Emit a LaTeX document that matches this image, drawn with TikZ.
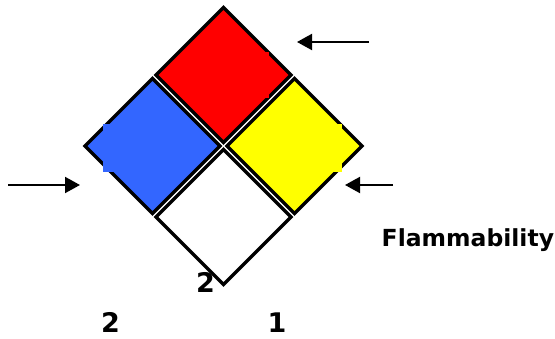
\documentclass[tikz,border=0pt]{standalone}
\usepackage{fontspec}
\setmainfont{DejaVu Sans}
\usetikzlibrary{shapes.geometric,arrows.meta}
\definecolor{nfpared}{RGB}{255,0,0}
\definecolor{nfpablue}{RGB}{51,102,255}
\definecolor{nfpayellow}{RGB}{255,255,0}
\begin{document}
\begin{tikzpicture}[x=1pt,y=-1pt,
  cell/.style={diamond, aspect=1, draw=black, line width=3.5pt, minimum width=135pt, minimum height=135pt, inner sep=0pt, outer sep=0pt},
  pointer/.style={line width=2pt, -{Triangle[length=15pt,width=16pt]}},
  lbl/.style={font=\bfseries\fontsize{23.5}{28}\selectfont, inner sep=0pt, anchor=base west},
  digit/.style={font=\bfseries\fontsize{27}{30}\selectfont, inner sep=0pt, anchor=base west}]
\useasboundingbox (0,0) rectangle (555,339);
\clip (0,0) rectangle (555,339);
% the four cells of the diamond
\node[cell, fill=nfpared]    (health)  at (223.5,75)  {};
\node[cell, fill=nfpablue]   (blue)    at (152.5,146) {};
\node[cell, fill=nfpayellow] (yellow)  at (294.5,146) {};
\node[cell, fill=white]      (special) at (223.5,217) {};
% small colour patches over the borders
\fill[nfpared]    (200,52)  rectangle (268.5,98);
\fill[nfpablue]   (103,124) rectangle (151,172);
\fill[nfpayellow] (297,124) rectangle (342,172);
% digits
\node[digit] (d0) at (196,293) {2};
\node[digit] (d1) at (101,333) {2};
\node[digit] (d2) at (267.5,333) {1};
% arrows
\coordinate (a1s) at (369,42);  \coordinate (a1e) at (297,42);
\coordinate (a2s) at (8,185);   \coordinate (a2e) at (80,185);
\coordinate (a3s) at (393,185); \coordinate (a3e) at (345,185);
\draw[pointer] (a1s) -- (a1e);
\draw[pointer] (a2s) -- (a2e);
\draw[pointer] (a3s) -- (a3e);
% label
\node[lbl] (flam) at (381.5,247) {Flammability};
\end{tikzpicture}
\end{document}
